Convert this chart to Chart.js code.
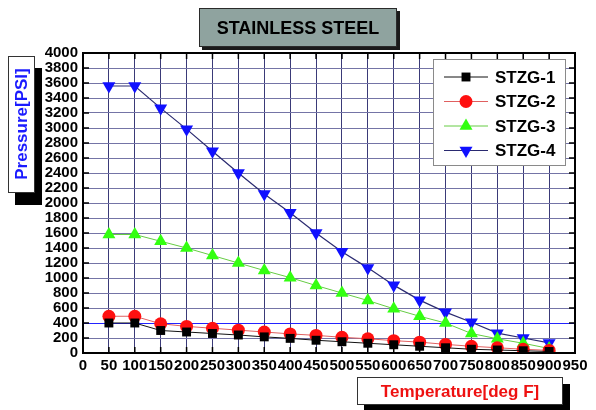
<!DOCTYPE html>
<html>
<head>
<meta charset="utf-8">
<script src="https://cdn.jsdelivr.net/npm/chart.js@4.4.0/dist/chart.umd.min.js"></script>
<style>
  html, body { margin: 0; padding: 0; background: #fff; }
  #wrap { position: relative; width: 596px; height: 410px; }
</style>
</head>
<body>
<div id="wrap"><canvas id="steelChart"></canvas></div>
<script>
// temperature [deg F] for each reading
var temps = [50, 100, 150, 200, 250, 300, 350, 400, 450, 500, 550, 600, 650, 700, 750, 800, 850, 900];
var stzg1 = [400, 400, 300, 280, 260, 240, 215, 195, 170, 150, 130, 110, 90, 70, 50, 40, 30, 20];
var stzg2 = [490, 490, 390, 355, 330, 305, 280, 255, 235, 210, 190, 165, 145, 115, 90, 70, 50, 35];
var stzg3 = [1580, 1580, 1490, 1400, 1300, 1200, 1100, 1005, 900, 800, 700, 590, 490, 400, 260, 190, 130, 60];
var stzg4 = [3560, 3560, 3265, 2985, 2690, 2400, 2120, 1870, 1600, 1350, 1135, 905, 705, 545, 410, 265, 200, 135];
var seriesNames = ['STZG-1', 'STZG-2', 'STZG-3', 'STZG-4'];

var chartTitle = 'STAINLESS STEEL';
var xTitle = 'Temperature[deg F]';
var yTitle = 'Pressure[PSI]';

function toPoints(values) {
    var pts = [];
    for (var i = 0; i < temps.length; i++) {
        pts.push({ x: temps[i], y: values[i] });
    }
    return pts;
}

var styles = [
    { line: '#111111', fill: '#000000', style: 'rect', radius: 6.3, rotation: 0, lineWidth: 1 },
    { line: '#e06060', fill: '#ff1010', style: 'circle', radius: 6.5, rotation: 0, lineWidth: 1 },
    { line: '#66cc44', fill: '#33ff11', style: 'triangle', radius: 7.5, rotation: 0, lineWidth: 1 },
    { line: '#2a2a70', fill: '#1010ff', style: 'triangle', radius: 7.5, rotation: 180, lineWidth: 1.2 }
];
var allValues = [stzg1, stzg2, stzg3, stzg4];

var datasets = [];
for (var s = 0; s < allValues.length; s++) {
    datasets.push({
        label: seriesNames[s],
        data: toPoints(allValues[s]),
        borderColor: styles[s].line,
        borderWidth: styles[s].lineWidth,
        backgroundColor: styles[s].fill,
        pointBackgroundColor: styles[s].fill,
        pointBorderColor: styles[s].fill,
        pointBorderWidth: 0,
        pointStyle: styles[s].style,
        pointRadius: styles[s].radius,
        pointRotation: styles[s].rotation,
        tension: 0,
        fill: false
    });
}

function boxWithShadow(ctx, x, y, w, h, dx, dy, fill, shadow, border) {
    ctx.fillStyle = shadow;
    ctx.fillRect(x + dx, y + dy, w, h);
    ctx.fillStyle = fill;
    ctx.fillRect(x, y, w, h);
    ctx.strokeStyle = border;
    ctx.lineWidth = 1;
    ctx.strokeRect(x + 0.5, y + 0.5, w - 1, h - 1);
}

// frame, inner ticks, boxed titles and the legend
var decorPlugin = {
    id: 'decor',
    afterDatasetsDraw: function(chart) {
        var ctx = chart.ctx;
        var a = chart.chartArea;
        var xs = chart.scales.x, ys = chart.scales.y;
        ctx.save();

        // inward tick marks
        ctx.strokeStyle = '#000';
        ctx.lineWidth = 1.5;
        ctx.beginPath();
        for (var v = 50; v < 950; v += 50) {
            var px = xs.getPixelForValue(v);
            ctx.moveTo(px, a.bottom); ctx.lineTo(px, a.bottom - 6);
            ctx.moveTo(px, a.top); ctx.lineTo(px, a.top + 6);
        }
        for (var w = 200; w < 4000; w += 200) {
            var py = ys.getPixelForValue(w);
            ctx.moveTo(a.left, py); ctx.lineTo(a.left + 6, py);
            ctx.moveTo(a.right, py); ctx.lineTo(a.right - 6, py);
        }
        ctx.stroke();

        // frame
        ctx.lineWidth = 2;
        ctx.strokeRect(a.left, a.top, a.right - a.left, a.bottom - a.top);

        // legend
        boxWithShadow(ctx, 433, 59, 133, 107, 0, 0, '#ffffff', '#ffffff', '#8a8a8a');
        ctx.font = 'bold 17px "Liberation Sans", Arial, sans-serif';
        ctx.textBaseline = 'middle';
        ctx.textAlign = 'left';
        for (var i = 0; i < seriesNames.length; i++) {
            var ry = 77 + i * 24.5;
            ctx.strokeStyle = styles[i].line;
            ctx.lineWidth = styles[i].lineWidth;
            ctx.beginPath();
            ctx.moveTo(444, ry); ctx.lineTo(488, ry);
            ctx.stroke();
            ctx.fillStyle = styles[i].fill;
            ctx.strokeStyle = styles[i].fill;
            ctx.lineWidth = 0;
            Chart.helpers.drawPoint(ctx, {
                pointStyle: styles[i].style,
                rotation: styles[i].rotation,
                radius: styles[i].radius,
                borderWidth: 0
            }, 466, ry);
            ctx.fillStyle = '#000';
            ctx.fillText(seriesNames[i], 495, ry + 1);
        }

        // chart title box
        boxWithShadow(ctx, 199, 8, 198, 39, 3, 3, '#8fa39f', '#1a1a1a', '#2a2a2a');
        ctx.fillStyle = '#000';
        ctx.textAlign = 'center';
        ctx.font = 'bold 18px "Liberation Sans", Arial, sans-serif';
        ctx.fillText(chartTitle, 298, 29);

        // x title box
        boxWithShadow(ctx, 357, 377, 206, 28, 7, 7, '#ffffff', '#000000', '#333333');
        ctx.fillStyle = '#ee1111';
        ctx.font = 'bold 17px "Liberation Sans", Arial, sans-serif';
        ctx.fillText(xTitle, 460, 392);

        // y title box
        boxWithShadow(ctx, 8, 56, 27, 137, 7, 12, '#ffffff', '#000000', '#333333');
        ctx.translate(22, 124);
        ctx.rotate(-Math.PI / 2);
        ctx.fillStyle = '#1a1aff';
        ctx.font = 'bold 17px "Liberation Sans", Arial, sans-serif';
        ctx.fillText(yTitle, 0, 0);

        ctx.restore();
    }
};

var ctx = document.getElementById('steelChart').getContext('2d');
var chart = new Chart(ctx, {
    type: 'line',
    data: { datasets: datasets },
    plugins: [decorPlugin],
    options: {
        responsive: true,
        maintainAspectRatio: false,
        animation: false,
        layout: { padding: { left: 0, right: 21, top: 53, bottom: 0 } },
        plugins: {
            legend: { display: false },
            title: { display: false },
            tooltip: { enabled: false }
        },
        scales: {
            x: {
                type: 'linear',
                min: 0,
                max: 950,
                afterFit: function(scale) { scale.height = 57; },
                ticks: {
                    stepSize: 50,
                    autoSkip: false,
                    maxRotation: 0,
                    padding: 4,
                    color: '#000',
                    callback: function(value) { return String(value); },
                    font: { family: '"Liberation Sans", Arial, sans-serif', size: 15, weight: 'bold' }
                },
                grid: {
                    drawTicks: false,
                    color: function(c) {
                        var v = c.tick ? c.tick.value : 0;
                        return (v === 0 || v === 950) ? 'rgba(0,0,0,0)' : '#3a3a78';
                    },
                    lineWidth: 1
                },
                border: { display: false }
            },
            y: {
                min: 0,
                max: 4000,
                afterFit: function(scale) { scale.width = 83; },
                ticks: {
                    stepSize: 200,
                    autoSkip: false,
                    padding: 5,
                    color: '#000',
                    callback: function(value) { return String(value); },
                    font: { family: '"Liberation Sans", Arial, sans-serif', size: 15, weight: 'bold', lineHeight: 1 }
                },
                grid: {
                    drawTicks: false,
                    color: function(c) {
                        var v = c.tick ? c.tick.value : 0;
                        if (v === 0 || v === 4000) return 'rgba(0,0,0,0)';
                        if (v === 400) return '#2222ff';
                        return '#7474a6';
                    },
                    lineWidth: 1
                },
                border: { display: false }
            }
        }
    }
});
</script>
</body>
</html>
